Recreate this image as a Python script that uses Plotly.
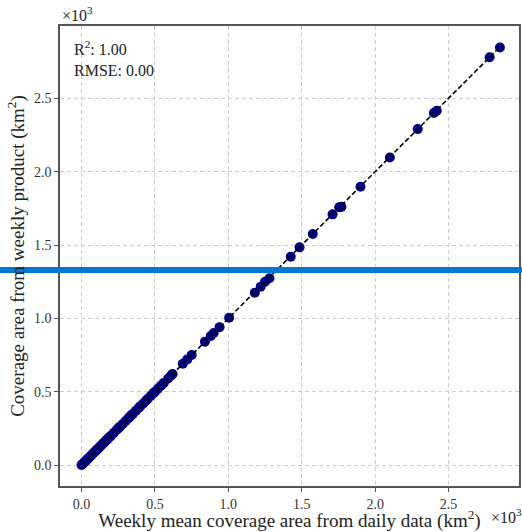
import plotly.graph_objects as go

# values in units of 10^3 km^2
daily_mean = [0.0, 0.005, 0.01, 0.02, 0.03, 0.04, 0.05, 0.06, 0.07, 0.08, 0.09, 0.10,
              0.11, 0.12, 0.13, 0.14, 0.15, 0.16, 0.17, 0.18, 0.19, 0.20, 0.22, 0.24,
              0.25, 0.26, 0.28, 0.30, 0.32, 0.33, 0.34, 0.35, 0.37, 0.39, 0.40, 0.42,
              0.44, 0.45, 0.47, 0.49, 0.50, 0.52, 0.54, 0.56, 0.59, 0.61, 0.62, 0.69,
              0.72, 0.75, 0.84, 0.88, 0.90, 0.94, 1.005, 1.18, 1.22, 1.25, 1.28, 1.425,
              1.485, 1.575, 1.71, 1.755, 1.77, 1.90, 2.10, 2.29, 2.40, 2.42, 2.78, 2.85]
weekly_product = [0.0, 0.005, 0.01, 0.02, 0.03, 0.04, 0.05, 0.06, 0.07, 0.08, 0.09, 0.10,
                  0.11, 0.12, 0.13, 0.14, 0.15, 0.16, 0.17, 0.18, 0.19, 0.20, 0.22, 0.24,
                  0.25, 0.26, 0.28, 0.30, 0.32, 0.33, 0.34, 0.35, 0.37, 0.39, 0.40, 0.42,
                  0.44, 0.45, 0.47, 0.49, 0.50, 0.52, 0.54, 0.56, 0.59, 0.61, 0.62, 0.69,
                  0.72, 0.75, 0.84, 0.88, 0.90, 0.94, 1.004, 1.175, 1.215, 1.25, 1.273, 1.42,
                  1.484, 1.575, 1.709, 1.757, 1.76, 1.897, 2.097, 2.29, 2.40, 2.415, 2.78, 2.847]
ticks = [0.0, 0.5, 1.0, 1.5, 2.0, 2.5]
stats_text = "R<sup>2</sup>: 1.00<br>RMSE: 0.00"

FONT = "Liberation Serif, Times New Roman, serif"

fig = go.Figure()
fig.add_trace(go.Scatter(
    x=daily_mean, y=weekly_product, mode="markers",
    marker=dict(color="#000080", size=10, line=dict(width=0)),
    showlegend=False, hoverinfo="skip"))
lo, hi = min(daily_mean), max(daily_mean)
fig.add_trace(go.Scatter(
    x=[lo, hi], y=[lo, hi], mode="lines",
    line=dict(color="black", width=1.6, dash="5px,2.5px"),
    showlegend=False, hoverinfo="skip"))

axis_common = dict(
    tickvals=ticks, tickformat=".1f",
    showgrid=True, gridcolor="#cccccc", gridwidth=1, griddash="4px,3px",
    zeroline=False, showline=True, linecolor="#555555", linewidth=1.5,
    mirror=True, ticks="outside", ticklen=4, tickwidth=1, tickcolor="#555555",
    tickfont=dict(family=FONT, size=14, color="#333333"),
)

fig.update_layout(
    width=522, height=532,
    margin=dict(l=60, r=1, t=26, b=46),
    plot_bgcolor="white", paper_bgcolor="white",
    font=dict(family=FONT, color="#222222"),
    xaxis=dict(axis_common, range=[-0.147, 2.98],
               title=dict(text="Weekly mean coverage area from daily data (km<sup>2</sup>)",
                          font=dict(family=FONT, size=19, color="#222222"), standoff=0)),
    yaxis=dict(axis_common, range=[-0.143, 2.993],
               title=dict(text="Coverage area from weekly product (km<sup>2</sup>)",
                          font=dict(family=FONT, size=19, color="#222222"), standoff=4)),
    annotations=[
        dict(text=stats_text, xref="paper", yref="paper", x=0.026, y=0.978,
             xanchor="left", yanchor="top", showarrow=False, align="left",
             font=dict(family=FONT, size=16, color="#222222")),
        dict(text="×10<sup>3</sup>", xref="paper", yref="paper", x=0.0, y=1.0,
             xanchor="left", yanchor="bottom", showarrow=False,
             font=dict(family=FONT, size=16, color="#222222")),
        dict(text="×10<sup>3</sup>", xref="paper", yref="paper", x=0.935, y=-0.04,
             xanchor="left", yanchor="top", showarrow=False,
             font=dict(family=FONT, size=16, color="#222222")),
    ],
    shapes=[
        dict(type="rect", xref="paper", yref="paper", x0=-0.135, x1=1.01,
             y0=0.463, y1=0.476, fillcolor="#0078D4", line=dict(width=0), layer="above"),
    ],
)

fig.write_html("out.html")
